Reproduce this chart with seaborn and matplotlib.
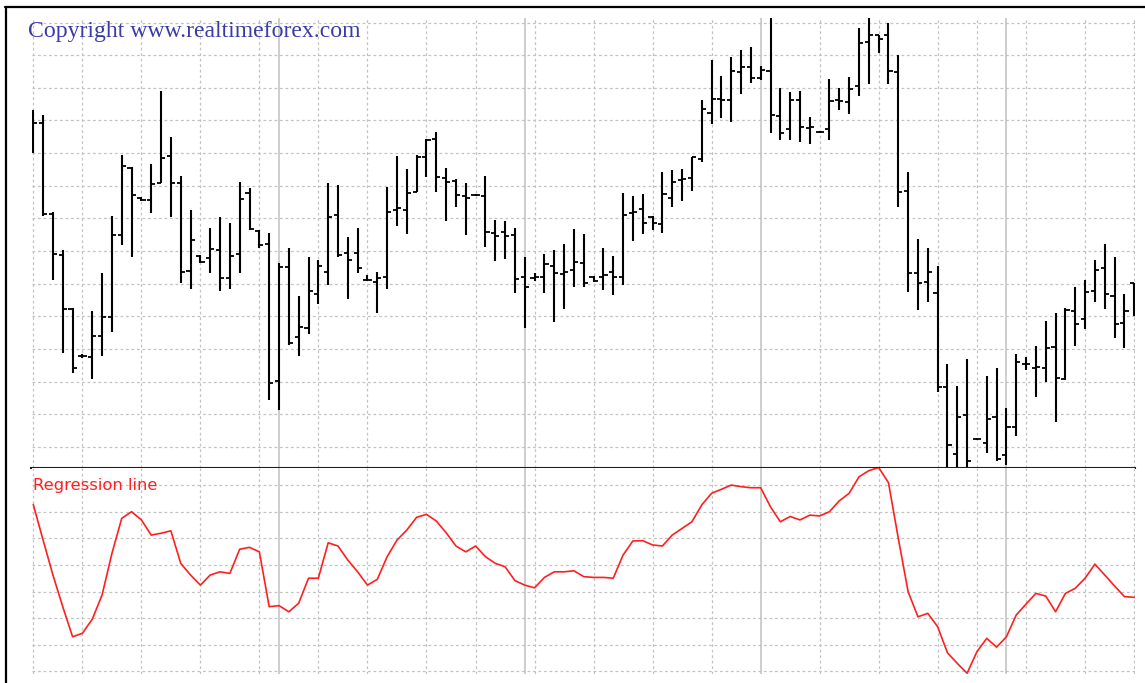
import numpy as np
import matplotlib
matplotlib.use("Agg")
import matplotlib.pyplot as plt
import seaborn as sns
from matplotlib.lines import Line2D

# ---------------- data (price in grid units) ----------------
highs = [10.31, 10.16, 7.19, 6.03, 4.25, 2.84, 4.16, 5.32, 7.07, 8.93,
         8.56, 7.65, 8.66, 10.90, 9.49, 8.29, 7.25, 5.87, 6.70, 7.04,
         6.85, 8.11, 7.92, 6.64, 6.55, 5.63, 6.09, 4.62, 5.81, 5.72,
         8.08, 8.02, 6.42, 6.70, 5.26, 5.35, 7.95, 8.90, 8.51, 8.93,
         9.42, 9.64, 8.54, 8.20, 8.08, 7.74, 8.29, 6.94, 6.91, 6.70,
         5.81, 5.32, 5.90, 6.03, 6.21, 6.67, 6.52, 5.23, 6.09, 5.84,
         7.77, 7.68, 7.74, 7.07, 8.41, 8.48, 8.51, 8.87, 10.62, 11.84,
         11.35, 11.94, 12.15, 12.24, 11.66, 13.13, 10.99, 10.86, 10.90, 10.10,
         9.67, 11.26, 10.99, 11.32, 12.82, 13.13, 12.61, 12.98, 12.00, 8.41,
         6.36, 6.09, 5.54, 2.53, 1.86, 2.69, 0.27, 2.17, 2.41, 1.19,
         2.84, 2.75, 3.08, 3.85, 4.10, 4.25, 4.89, 5.11, 5.72, 6.21,
         5.81, 4.68, 5.01]

lows = [9.00, 7.07, 5.11, 2.87, 2.26, 2.72, 2.07, 2.78, 3.51, 6.18,
        5.81, 7.53, 7.16, 8.08, 7.04, 5.01, 4.83, 5.63, 5.32, 4.77,
        4.83, 5.32, 6.64, 6.09, 1.43, 1.13, 3.12, 2.78, 3.45, 4.37,
        4.95, 5.81, 4.52, 5.32, 5.08, 4.10, 4.83, 6.76, 6.52, 7.80,
        8.26, 7.80, 6.91, 7.34, 6.48, 7.68, 6.12, 5.69, 5.75, 4.71,
        3.64, 5.08, 4.71, 3.82, 4.22, 4.89, 4.89, 5.05, 4.80, 4.65,
        4.95, 6.30, 6.52, 6.64, 6.55, 7.34, 7.53, 7.83, 8.72, 9.88,
        10.07, 9.95, 10.80, 11.14, 11.23, 9.61, 9.39, 9.39, 9.33, 9.27,
        9.61, 9.39, 10.31, 10.19, 10.74, 11.11, 12.06, 11.11, 7.34, 4.74,
        4.19, 4.43, 1.68, -0.65, -0.65, -0.65, 0.21, -0.19, -0.44, -0.56,
        0.33, 2.35, 1.52, 1.98, 0.76, 2.04, 3.08, 3.61, 4.43, 4.22,
        3.33, 3.02, 4.00]

opens = [9.85, 9.92, 7.13, 5.87, 4.22, 2.78, 2.75, 3.39, 3.97, 6.48,
         8.54, 7.62, 7.56, 8.08, 8.90, 8.08, 5.38, 5.84, 5.78, 6.03,
         5.17, 5.90, 7.77, 6.61, 6.21, 2.01, 5.50, 3.36, 3.64, 4.68,
         5.35, 7.10, 5.93, 5.93, 5.11, 5.05, 5.20, 7.25, 7.25, 7.80,
         8.87, 9.42, 8.23, 8.14, 7.68, 7.71, 7.68, 6.55, 6.58, 6.48,
         5.20, 5.17, 5.20, 5.54, 5.29, 5.41, 5.63, 5.20, 5.20, 5.35,
         5.20, 7.16, 7.28, 7.04, 6.82, 7.62, 8.17, 8.23, 8.81, 10.22,
         10.65, 10.62, 11.48, 11.63, 11.29, 11.51, 10.13, 9.73, 10.62, 9.76,
         9.64, 9.73, 10.62, 10.56, 11.05, 12.40, 12.61, 12.61, 11.48, 7.83,
         5.32, 5.05, 4.71, 1.83, -0.22, 0.97, 0.24, 0.11, 0.91, -0.25,
         0.60, 2.53, 2.41, 2.41, 3.05, 2.07, 4.16, 3.91, 4.77, 5.47,
         4.62, 3.79, 5.01]

closes = [9.92, 7.13, 5.90, 4.22, 2.41, 2.78, 3.39, 3.97, 6.48, 8.60,
          7.71, 7.56, 8.05, 8.84, 8.08, 5.35, 6.33, 5.66, 6.06, 5.17,
          5.84, 7.59, 6.67, 6.18, 1.95, 5.50, 3.18, 3.67, 4.77, 5.54,
          7.04, 5.87, 5.72, 5.47, 5.11, 5.17, 7.19, 7.31, 7.77, 8.87,
          9.39, 8.26, 8.11, 7.71, 7.62, 7.71, 6.58, 6.45, 6.45, 5.14,
          4.89, 5.20, 5.60, 5.32, 5.35, 5.66, 5.01, 5.08, 5.26, 5.20,
          7.10, 7.19, 6.85, 6.85, 7.74, 8.11, 8.20, 8.87, 10.34, 10.65,
          10.62, 11.51, 11.63, 11.29, 11.54, 10.16, 9.61, 10.62, 9.79, 9.79,
          9.64, 10.59, 10.59, 10.96, 12.37, 12.61, 12.49, 11.51, 7.80, 5.32,
          5.01, 5.35, 1.83, 0.05, 0.91, -0.44, 0.24, 0.85, -0.38, 0.60,
          2.60, 2.53, 2.44, 3.02, 2.10, 4.19, 3.76, 4.74, 5.41, 4.68,
          3.76, 4.16, 4.49]

regression = [6.27, 4.93, 3.62, 2.43, 1.30, 1.43, 1.96, 2.87, 4.43, 5.75,
              6.00, 5.69, 5.12, 5.19, 5.28, 4.06, 3.62, 3.24, 3.62, 3.74,
              3.68, 4.59, 4.66, 4.49, 2.43, 2.47, 2.24, 2.56, 3.50, 3.50,
              4.83, 4.71, 4.18, 3.74, 3.24, 3.46, 4.31, 4.93, 5.31, 5.79,
              5.90, 5.65, 5.21, 4.71, 4.49, 4.71, 4.31, 4.06, 3.93, 3.41,
              3.24, 3.14, 3.53, 3.74, 3.74, 3.78, 3.56, 3.53, 3.53, 3.50,
              4.37, 4.90, 4.91, 4.75, 4.71, 5.12, 5.37, 5.62, 6.25, 6.69,
              6.84, 7.00, 6.94, 6.90, 6.90, 6.18, 5.62, 5.82, 5.69, 5.87,
              5.84, 6.00, 6.41, 6.69, 7.31, 7.54, 7.66, 7.09, 5.00, 2.99,
              2.05, 2.18, 1.68, 0.70, 0.30, -0.07, 0.74, 1.24, 0.91, 1.30,
              2.12, 2.53, 2.93, 2.83, 2.24, 2.93, 3.12, 3.50, 4.03, 3.62,
              3.21, 2.81, 2.78]

week_grid = [0, 5, 11, 17, 23, 29, 34, 40, 45, 51, 57, 63, 69,
             80, 86, 92, 96, 101, 107, 112]
month_lines = [25, 50, 74, 99]
price_grid = list(range(0, 14))
osc_grid = list(range(0, 8))

title_text = "Copyright www.realtimeforex.com"
panel_label = "Regression line"

# ---------------- style ----------------
sns.set_style("white")
plt.rcParams["font.family"] = ["DejaVu Sans"]

W_PX, H_PX = 1145, 683
fig = plt.figure(figsize=(W_PX / 100, H_PX / 100), dpi=100, facecolor="white")

left = 31.5 / W_PX
width = (1135 - 31.5) / W_PX
ax1 = fig.add_axes([left, (H_PX - 468.3) / H_PX, width, 450.3 / H_PX])
ax2 = fig.add_axes([left, (H_PX - 673.5) / H_PX, width, 205.2 / H_PX])

idx = np.arange(len(highs))
grid_color = "#c2c2c2"
dash = (0, (2.2, 2.2))

# bars
ax1.vlines(idx, lows, highs, color="black", lw=1.5, zorder=3)
ax1.hlines(opens, idx - 0.42, idx, color="black", lw=1.3, zorder=3)
ax1.hlines(closes, idx, idx + 0.42, color="black", lw=1.3, zorder=3)

# regression line
sns.lineplot(x=idx, y=regression, ax=ax2, color="#ff1f1f", lw=1.2, zorder=3)
ax2.set_xlabel("")
ax2.set_ylabel("")

for ax in (ax1, ax2):
    ax.set_facecolor("white")
    ax.set_xlim(-0.18, 112.08)
    ax.set_xticks(week_grid)
    ax.grid(True, color=grid_color, linestyle=dash, linewidth=0.9)
    ax.set_axisbelow(True)
    ax.tick_params(left=False, bottom=False, labelleft=False, labelbottom=False)
    for s in ax.spines.values():
        s.set_visible(False)
    for m in month_lines:
        ax.axvline(m, color="#c0c0c0", lw=1.1, zorder=1)

ax1.set_ylim(-0.66, 13.14)
ax1.set_yticks(price_grid)
ax2.set_ylim(-0.08, 7.63)
ax2.set_yticks(osc_grid)

ax1.spines["bottom"].set_visible(True)
ax1.spines["bottom"].set_color("#1e1e1e")
ax1.spines["bottom"].set_linewidth(1.5)
ax1.spines["bottom"].set_zorder(4)

# frame (left and top border)
fig.add_artist(Line2D([5.5 / W_PX, 5.5 / W_PX], [0, (H_PX - 6.5) / H_PX],
                      transform=fig.transFigure, color="black", lw=1.6))
fig.add_artist(Line2D([5.0 / W_PX, 1.0], [(H_PX - 7.3) / H_PX] * 2,
                      transform=fig.transFigure, color="black", lw=1.6))

# texts
fig.text(28 / W_PX, (H_PX - 37.5) / H_PX, title_text, family=["Liberation Serif"],
         fontsize=17.1, color="#3b3ba8", va="baseline", ha="left")
fig.text(33.3 / W_PX, (H_PX - 490) / H_PX, panel_label, fontsize=11.8,
         color="#ff2020", va="baseline", ha="left")

fig.savefig("out.png", dpi=100, facecolor="white")
